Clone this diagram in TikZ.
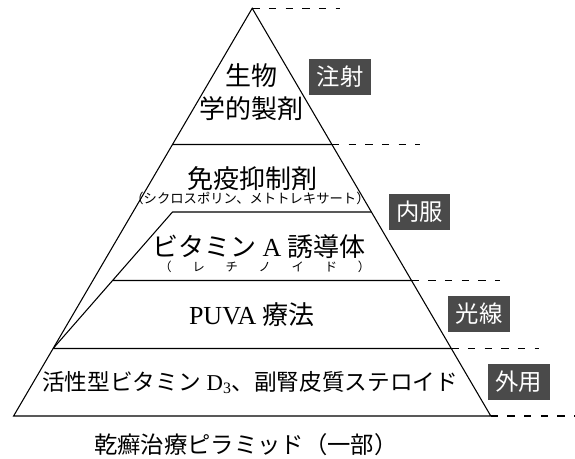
\documentclass[tikz,border=0pt]{standalone}
\usepackage{fontspec}
\setmainfont{Liberation Serif}
\newfontfamily\jp{Noto Sans CJK JP}
\usetikzlibrary{calc}
\definecolor{tagGray}{HTML}{4A4A4A}
\newcommand\rgap{\hspace{15.6pt}}
\tikzset{
  tag/.style={fill=tagGray,text=white,anchor=west,
    font=\jp\fontsize{17.5}{20}\selectfont,
    inner xsep=5.6pt,inner ysep=4.7pt,text height=15.3pt,text depth=2.2pt},
  big/.style={font=\fontsize{19.5}{24.75}\selectfont,align=center},
  tiny/.style={font=\jp\fontsize{9.2}{11}\selectfont,inner sep=0pt},
  level/.style={line width=0.8pt},
  cut/.style={line width=0.8pt,dash pattern=on 5.5pt off 7pt}
}
\begin{document}
\begin{tikzpicture}[x=0.75pt,y=-0.75pt,>=latex]
\useasboundingbox (0,0) rectangle (575,459);
\def\yT{8.3}
\def\H{407.7}
\def\yA{144.5}
\def\yB{212}
\def\yC{280.5}
\def\yD{348.5}
\coordinate (apex) at (252.2,\yT);
\coordinate (bl) at (13.6,416);
\coordinate (br) at (490.8,416);
\coordinate (la) at ($(apex)!{(\yA-\yT)/\H}!(bl)$);
\coordinate (ra) at ($(apex)!{(\yA-\yT)/\H}!(br)$);
\coordinate (rb) at ($(apex)!{(\yB-\yT)/\H}!(br)$);
\coordinate (rc) at ($(apex)!{(\yC-\yT)/\H}!(br)$);
\coordinate (ld) at ($(apex)!{(\yD-\yT)/\H}!(bl)$);
\coordinate (rd) at ($(apex)!{(\yD-\yT)/\H}!(br)$);
\coordinate (hb) at (0,\yB);
\coordinate (ib) at (la |- hb);
\coordinate (ic) at ($(ib)!{(\yC-\yB)/(\yD-\yB)}!(ld)$);
\draw[level]
  (apex) -- (bl) -- (br) -- cycle;
\draw[level]
  (la) -- (ra)
  (ib) -- (rb)
  (ib) -- (ld)
  (ic) -- (rc)
  (ld) -- (rd);
\begin{scope}[cut]
\draw (apex) -- ++(88,0);
\draw (ra) -- ++(88,0);
\draw (rc) -- ++(88,0);
\draw (rd) -- ++(88,0);
\draw (br) -- ++(88,0);
\end{scope}
\node[big] (bio) at (251.5,92.5) {\jp 生物\\\jp 学的製剤};
\node[big] (immu) at (252,179) {\jp 免疫抑制剤};
\node[tiny,font=\jp\fontsize{10}{12}\selectfont] (cyclo) at (250,198.3) {（シクロスポリン、メトトレキサート）};
\node[big] (vita) at (259,246.7) {{\jp ビタミン} A {\jp 誘導体}};
\node[tiny] (reti) at (264.8,266.7) {（\rgap レ\rgap チ\rgap ノ\rgap イ\rgap ド\rgap ）};
\node[big] (puva) at (252,315) {PUVA {\jp 療法}};
\node[big,font=\fontsize{17}{20}\selectfont] (topic) at (250.3,382.5)
  {{\jp 活性型ビタミン} D\textsubscript{3}{\jp 、副腎皮質ステロイド}};
\node[font=\jp\fontsize{17.5}{20}\selectfont] (title) at (245.7,445)
  {乾癬治療ピラミッド（一部）};
\node[tag] (inj) at ($(apex)!{(76.7-\yT)/\H}!(br)+(17,0)$) {注射};
\node[tag] (oral) at ($(apex)!{(212-\yT)/\H}!(br)+(17,0)$) {内服};
\node[tag] (light) at ($(apex)!{(314-\yT)/\H}!(br)+(17,0)$) {光線};
\node[tag] (ext) at ($(apex)!{(382-\yT)/\H}!(br)+(17,0)$) {外用};
\end{tikzpicture}
\end{document}
